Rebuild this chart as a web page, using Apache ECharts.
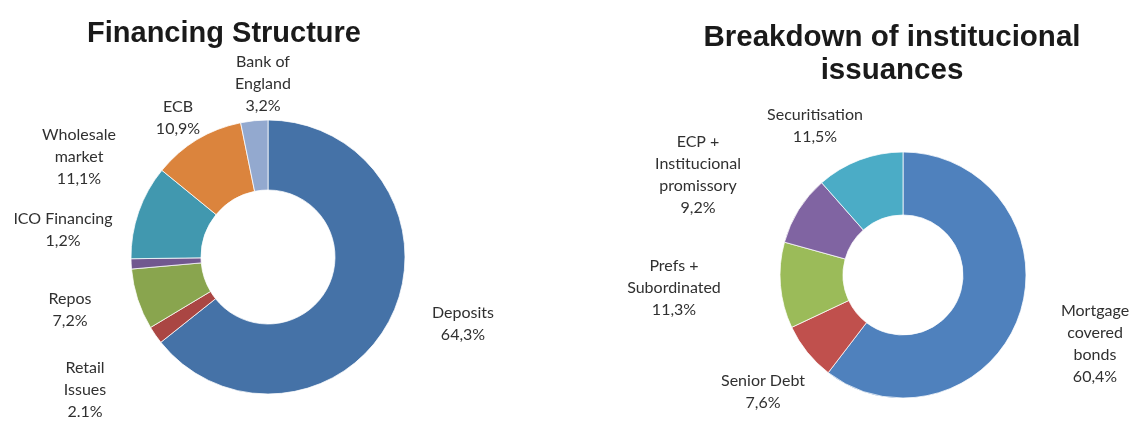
<!DOCTYPE html>
<html>
<head>
<meta charset="utf-8">
<script src="https://cdn.jsdelivr.net/npm/echarts@6/dist/echarts.min.js"></script>
<style>
  html, body { margin: 0; padding: 0; background: #fff; }
  #chart { width: 1133px; height: 421px; }
</style>
</head>
<body>
<div id="chart"></div>
<script>
// Left donut: financing structure
const fundNames = ["Deposits", "Retail\nIssues", "Repos", "ICO Financing", "Wholesale\nmarket", "ECB", "Bank of\nEngland"];
const fundValues = [64.3, 2.1, 7.2, 1.2, 11.1, 10.9, 3.2];
const fundPct = ["64,3%", "2.1%", "7,2%", "1,2%", "11,1%", "10,9%", "3,2%"];

// Right donut: institutional issuances
const issueNames = ["Mortgage\ncovered\nbonds", "Senior Debt", "Prefs +\nSubordinated", "ECP +\nInstitucional\npromissory", "Securitisation"];
const issueValues = [60.4, 7.6, 11.3, 9.2, 11.5];
const issuePct = ["60,4%", "7,6%", "11,3%", "9,2%", "11,5%"];

// label anchor points (Excel placed them by hand)
const fundLabelPos = [[463, 324], [85, 390], [70, 310], [63, 230], [79, 157], [178, 118], [263, 84]];
const issueLabelPos = [[1095, 344], [763, 392], [674, 288], [698, 175], [815, 126]];

const fundColors = ["#4572a7", "#aa4643", "#89a54e", "#71588f", "#4198af", "#db843d", "#93a9cf"];
const issueColors = ["#4f81bd", "#c0504d", "#9bbb59", "#8064a2", "#4bacc6"];

const chart = echarts.init(document.getElementById("chart"));

function donut(names, values, pct, colors, pos, center, radius) {
  return {
    type: "pie",
    center: center,
    radius: radius,
    startAngle: 90,
    clockwise: true,
    avoidLabelOverlap: false,
    itemStyle: { borderColor: "#ffffff", borderWidth: 0.75 },
    label: {
      show: true,
      position: "outside",
      fontFamily: "Lato",
      fontSize: 16,
      lineHeight: 22,
      color: "#303030",
      align: "center",
      formatter: p => names[p.dataIndex] + "\n" + pct[p.dataIndex]
    },
    labelLine: { show: false },
    labelLayout: p => ({
      x: pos[p.dataIndex][0],
      y: pos[p.dataIndex][1],
      align: "center",
      verticalAlign: "middle"
    }),
    emphasis: { disabled: true },
    data: values.map((v, i) => ({ value: v, name: names[i], itemStyle: { color: colors[i] } }))
  };
}

chart.setOption({
  backgroundColor: "#ffffff",
  animation: false,
  title: [
    {
      text: "Financing Structure",
      left: 219, top: 14, textAlign: "center",
      textStyle: { fontFamily: "Liberation Sans", fontSize: 29, fontWeight: "bold", color: "#1a1a1a" }
    },
    {
      text: "Breakdown of institucional\nissuances",
      left: 887, top: 16, textAlign: "center",
      textStyle: { fontFamily: "Liberation Sans", fontSize: 29.5, fontWeight: "bold", color: "#1a1a1a", lineHeight: 33 }
    }
  ],
  series: [
    donut(fundNames, fundValues, fundPct, fundColors, fundLabelPos, [268, 257], [67, 137]),
    donut(issueNames, issueValues, issuePct, issueColors, issueLabelPos, [903, 275], [60, 123])
  ]
});
</script>
</body>
</html>
